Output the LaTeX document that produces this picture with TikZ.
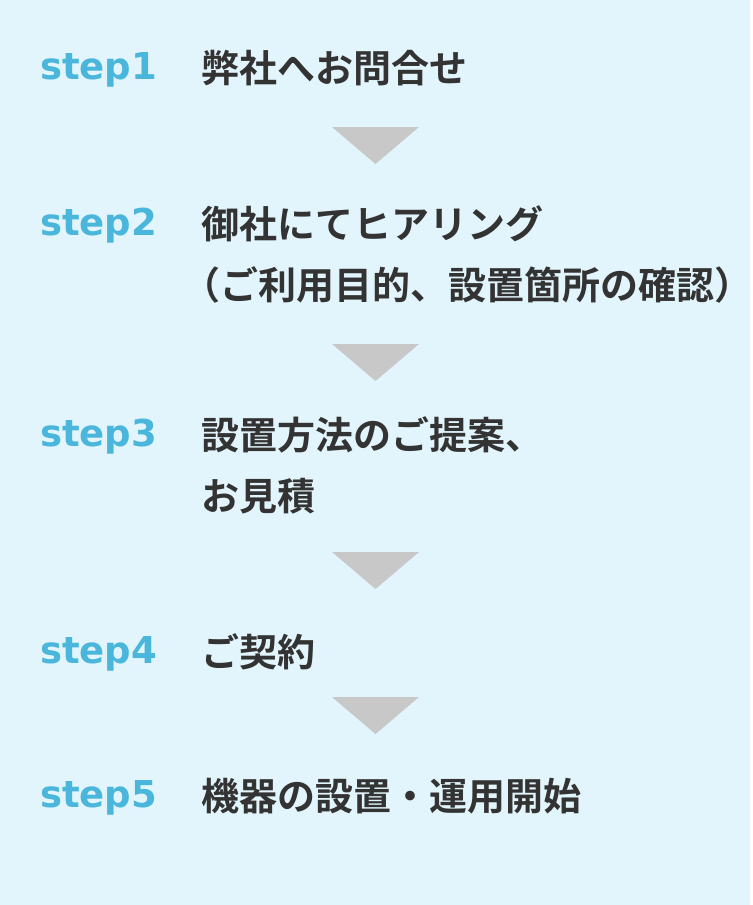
\documentclass[tikz,border=0pt]{standalone}
\usepackage{fontspec}
\setmainfont{DejaVu Sans}
\newfontfamily\jpfont{Noto Sans CJK JP}[BoldFont={Noto Sans CJK JP Bold}]
\definecolor{bgblue}{HTML}{E2F5FC}
\definecolor{stepblue}{HTML}{4AB6DC}
\definecolor{textgray}{HTML}{333333}
\definecolor{trigray}{HTML}{C8C8C8}

\begin{document}
\begin{tikzpicture}[x=1pt, y=-1pt,
    steplabel/.style={anchor=base west, inner sep=0pt, text=stepblue, font=\fontsize{37}{37}\selectfont\bfseries},
    steptext/.style={anchor=base west, inner sep=0pt, text=textgray, font=\fontsize{38}{38}\selectfont\jpfont\bfseries},
    downtri/.style={fill=trigray}]
    \fill[bgblue] (0,0) rectangle (750,905);

    \node[steplabel] (s1) at (40, 79) {step1};
    \node[steplabel] (s2) at (40, 235) {step2};
    \node[steplabel] (s3) at (40, 446) {step3};
    \node[steplabel] (s4) at (40, 663) {step4};
    \node[steplabel] (s5) at (40, 807) {step5};

    \node[steptext] (t1) at (201, 82) {弊社へお問合せ};
    \node[steptext] (t2a) at (201, 238) {御社にてヒアリング};
    \node[steptext] (t2b) at (182, 299) {（ご利用目的、設置箇所の確認）};
    \node[steptext] (t3a) at (201, 449) {設置方法のご提案、};
    \node[steptext] (t3b) at (201, 510) {お見積};
    \node[steptext] (t4) at (201, 666) {ご契約};
    \node[steptext] (t5) at (201, 810) {機器の設置・運用開始};

    \fill[downtri] (332,127) -- (419,127) -- (375.5,164) -- cycle;
    \fill[downtri] (332,344) -- (419,344) -- (375.5,381) -- cycle;
    \fill[downtri] (332,552) -- (419,552) -- (375.5,589) -- cycle;
    \fill[downtri] (332,697) -- (419,697) -- (375.5,734) -- cycle;
\end{tikzpicture}
\end{document}
